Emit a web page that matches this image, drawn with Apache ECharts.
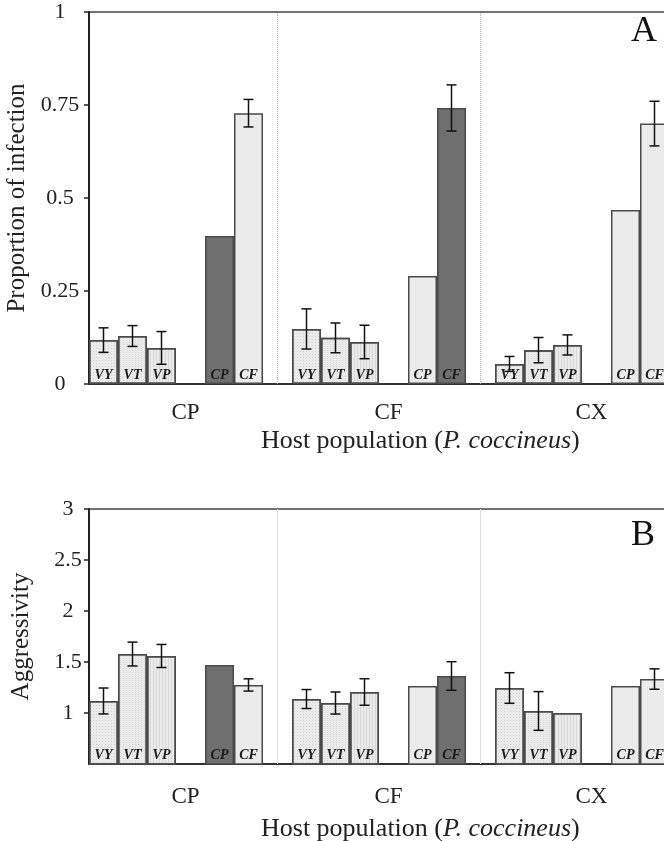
<!DOCTYPE html>
<html>
<head>
<meta charset="utf-8">
<script src="https://cdn.jsdelivr.net/npm/echarts@6/dist/echarts.min.js"></script>
<style>
  html, body { margin: 0; padding: 0; background: #fff; }
  #chart { width: 664px; height: 841px; }
</style>
</head>
<body>
<div id="chart"></div>
<script>
// host populations (x groups) and pathogen strains inside each group
const groups = ['CP', 'CF', 'CX']
const strains = ['VY', 'VT', 'VP', 'CP', 'CF']
// slot layout of one group on the category axis ('' = empty slot)
const slotCodes = ['VY', 'VT', 'VP', '', 'CP', 'CF', '']

// panel A: proportion of infection, rows = host group, cols = strains
const infection = [
  [0.118, 0.129, 0.097, 0.398, 0.728],
  [0.148, 0.124, 0.113, 0.290, 0.742],
  [0.054, 0.091, 0.105, 0.468, 0.700]
]
const infectionErr = [
  [0.033, 0.028, 0.044, null, 0.037],
  [0.054, 0.040, 0.045, null, 0.062],
  [0.020, 0.034, 0.027, null, 0.060]
]
// panel B: aggressivity
const aggressivity = [
  [1.118, 1.578, 1.559, 1.470, 1.275],
  [1.137, 1.098, 1.206, 1.265, 1.363],
  [1.245, 1.020, 1.000, 1.265, 1.333]
]
const aggressivityErr = [
  [0.127, 0.117, 0.113, null, 0.060],
  [0.093, 0.108, 0.130, null, 0.140],
  [0.150, 0.190, null, null, 0.100]
]
const yTicksA = { min: 0, max: 1, interval: 0.25 }
const yTicksB = { min: 0.5, max: 3, interval: 0.5 }

const SERIF = '"Liberation Serif", "DejaVu Serif", serif'
const LIGHT = '#ebebeb'
const DARK = '#6f6f6f'

// category slots: group_strain
const slots = []
groups.forEach((g) => {
  slotCodes.forEach((c, i) => slots.push(g + '_' + (c || 'gap' + i)))
})

// decal patterns for the light bars (faint texture)
const decals = {
  VY: { symbol: 'rect', symbolSize: 1, dashArrayX: [1, 2], dashArrayY: [1, 2], color: 'rgba(0,0,0,0.10)' },
  VT: { symbol: 'rect', symbolSize: 1, dashArrayX: [1, 2], dashArrayY: [1, 1], color: 'rgba(0,0,0,0.08)' },
  VP: { symbol: 'rect', symbolSize: 1, dashArrayX: [1, 2], dashArrayY: [4, 0], color: 'rgba(0,0,0,0.08)' }
}

function barData(values) {
  const out = []
  groups.forEach((g, gi) => {
    slotCodes.forEach((c) => {
      if (!c) { out.push(null); return }
      const v = values[gi][strains.indexOf(c)]
      const dark = c === g
      const item = { value: v, itemStyle: { color: dark ? DARK : LIGHT } }
      if (!dark && decals[c]) item.itemStyle.decal = decals[c]
      out.push(item)
    })
  })
  return out
}

function errData(values, errs) {
  const out = []
  groups.forEach((g, gi) => {
    slotCodes.forEach((c, si) => {
      if (!c) return
      const k = strains.indexOf(c)
      if (errs[gi][k] == null) return
      out.push([gi * slotCodes.length + si, values[gi][k], errs[gi][k]])
    })
  })
  return out
}

function renderErr(params, api) {
  const x = api.value(0)
  const m = api.value(1)
  const e = api.value(2)
  const top = api.coord([x, m + e])
  const bot = api.coord([x, m - e])
  const cap = 5
  const st = { stroke: '#111', lineWidth: 1.5 }
  return {
    type: 'group',
    children: [
      { type: 'line', shape: { x1: top[0], y1: top[1], x2: bot[0], y2: bot[1] }, style: st },
      { type: 'line', shape: { x1: top[0] - cap, y1: top[1], x2: top[0] + cap, y2: top[1] }, style: st },
      { type: 'line', shape: { x1: bot[0] - cap, y1: bot[1], x2: bot[0] + cap, y2: bot[1] }, style: st }
    ]
  }
}

function xAxisFor(gridIndex, labelMargin) {
  return {
    type: 'category',
    gridIndex,
    data: slots,
    axisLine: { lineStyle: { color: '#333', width: 2 } },
    axisTick: { show: false },
    axisLabel: {
      interval: (i) => i % slotCodes.length === 3,
      formatter: (v, i) => groups[Math.floor(i / slotCodes.length)],
      fontFamily: SERIF,
      fontSize: 23,
      color: '#222',
      margin: labelMargin,
      padding: [0, 10, 0, 0]
    }
  }
}

function yAxisFor(gridIndex, ticks, name, labelMargin, nameGap) {
  return {
    type: 'value',
    gridIndex,
    min: ticks.min,
    max: ticks.max,
    interval: ticks.interval,
    name,
    nameLocation: 'middle',
    nameGap,
    nameTextStyle: { fontFamily: SERIF, fontSize: 25, color: '#222' },
    axisLine: { show: true, lineStyle: { color: '#222', width: 2 } },
    axisTick: { show: true, length: 5, lineStyle: { color: '#222', width: 1.5 } },
    axisLabel: {
      showMinLabel: gridIndex === 0,
      fontFamily: SERIF,
      fontSize: 22,
      color: '#222',
      align: 'center',
      margin: labelMargin
    },
    splitLine: { show: false }
  }
}

function barSeries(gridIndex, values, sepStyle) {
  return {
    type: 'bar',
    xAxisIndex: gridIndex,
    yAxisIndex: gridIndex,
    data: barData(values),
    barCategoryGap: '0%',
    itemStyle: { borderColor: '#4a4a4a', borderWidth: 1.5 },
    label: {
      show: true,
      position: 'insideBottom',
      distance: 2,
      formatter: (p) => slotCodes[p.dataIndex % slotCodes.length],
      fontFamily: SERIF,
      fontStyle: 'italic',
      fontWeight: 'bold',
      fontSize: 14,
      color: '#1a1a1a'
    },
    markLine: {
      silent: true,
      symbol: 'none',
      label: { show: false },
      lineStyle: sepStyle,
      data: [{ xAxis: slots[6] }, { xAxis: slots[13] }]
    },
    z: 2
  }
}

function errSeries(gridIndex, values, errs) {
  return {
    type: 'custom',
    xAxisIndex: gridIndex,
    yAxisIndex: gridIndex,
    data: errData(values, errs),
    renderItem: renderErr,
    z: 5
  }
}

const hostName = (y) => ({
  type: 'text',
  left: 261,
  top: y - 14,
  style: {
    text: '{n|Host population (}{i|P. coccineus}{n|)}',
    rich: {
      n: { fontFamily: SERIF, fontSize: 26, fill: '#222' },
      i: { fontFamily: SERIF, fontSize: 26, fontStyle: 'italic', fill: '#222' }
    }
  }
})
const panelTag = (t, y) => ({
  type: 'text',
  left: 631,
  top: y,
  style: { text: t, fontFamily: SERIF, fontSize: 36, fill: '#111' }
})

const chart = echarts.init(document.getElementById('chart'), null, { renderer: 'canvas' })
chart.setOption({
  animation: false,
  backgroundColor: '#fff',
  grid: [
    { left: 89, top: 12, width: 609, height: 372, outerBoundsMode: 'none', show: true, borderColor: '#444', borderWidth: 1.5 },
    { left: 89, top: 509, width: 609, height: 255, outerBoundsMode: 'none', show: true, borderColor: '#444', borderWidth: 1.5 }
  ],
  xAxis: [xAxisFor(0, 17), xAxisFor(1, 21)],
  yAxis: [
    yAxisFor(0, yTicksA, 'Proportion of infection', 29, 53),
    yAxisFor(1, yTicksB, 'Aggressivity', 21, 55)
  ],
  series: [
    barSeries(0, infection, { color: '#b5b5b5', type: 'dotted', width: 1 }),
    errSeries(0, infection, infectionErr),
    barSeries(1, aggressivity, { color: '#dcdcdc', type: 'solid', width: 1 }),
    errSeries(1, aggressivity, aggressivityErr)
  ],
  graphic: [hostName(442), hostName(830), panelTag('A', 14), panelTag('B', 518)]
})
window.addEventListener('resize', function () {
  chart.resize()
})
</script>
</body>
</html>
